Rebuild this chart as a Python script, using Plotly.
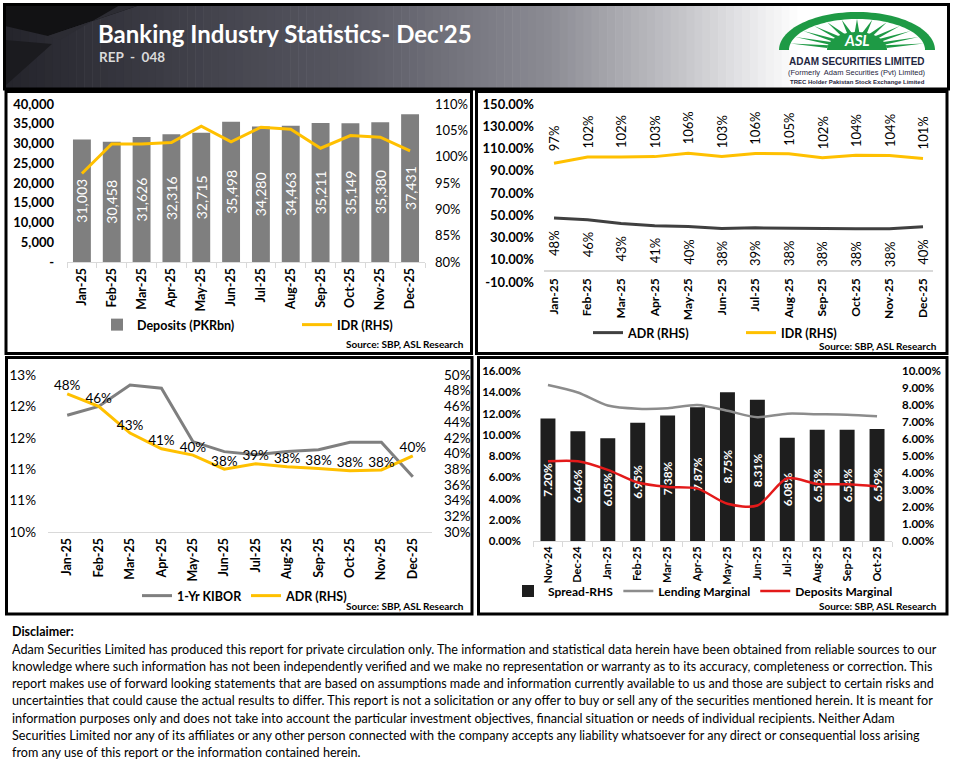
import numpy as np
import plotly.graph_objects as go

W, H = 955, 768


def X(p):
    return p / W


def Y(p):
    return 1 - p / H


# ---------------- data ----------------
months_25 = ["Jan-25", "Feb-25", "Mar-25", "Apr-25", "May-25", "Jun-25",
             "Jul-25", "Aug-25", "Sep-25", "Oct-25", "Nov-25", "Dec-25"]
deposits_pkrbn = [31003, 30458, 31626, 32316, 32715, 35498,
                  34280, 34463, 35211, 35149, 35380, 37431]
idr_pct = [96.8, 102.4, 102.4, 102.7, 105.8, 102.8,
           105.6, 105.2, 101.6, 104.0, 103.7, 101.1]
adr_pct = [47.6, 46.0, 42.6, 40.6, 39.8, 38.0,
           38.7, 38.3, 38.1, 37.8, 37.9, 39.7]
kibor_1yr_pct = [11.86, 12.00, 12.34, 12.29, 11.44, 11.28,
                 11.23, 11.28, 11.31, 11.43, 11.43, 10.88]

months_spread = ["Nov-24", "Dec-24", "Jan-25", "Feb-25", "Mar-25", "Apr-25",
                 "May-25", "Jun-25", "Jul-25", "Aug-25", "Sep-25", "Oct-25"]
spread_pct = [7.20, 6.46, 6.05, 6.95, 7.38, 7.87, 8.75, 8.31, 6.08, 6.55, 6.54, 6.59]
lending_marginal_pct = [14.68, 13.98, 12.75, 12.45, 12.50, 12.80,
                        12.25, 11.65, 11.98, 11.93, 11.88, 11.74]
deposits_marginal_pct = [7.51, 7.51, 6.70, 5.50, 5.09, 4.93,
                         3.50, 3.34, 5.90, 5.37, 5.34, 5.14]

# tick labels
dep_tickvals = [0, 5000, 10000, 15000, 20000, 25000, 30000, 35000, 40000]
dep_ticktext = ["-", "5,000", "10,000", "15,000", "20,000", "25,000", "30,000", "35,000", "40,000"]
idr_tickvals = [80, 85, 90, 95, 100, 105, 110]
idr_ticktext = ["80%", "85%", "90%", "95%", "100%", "105%", "110%"]
ratio_tickvals = [-10, 10, 30, 50, 70, 90, 110, 130, 150]
ratio_ticktext = ["-10.00%", "10.00%", "30.00%", "50.00%", "70.00%", "90.00%",
                  "110.00%", "130.00%", "150.00%"]
kibor_tickvals = [10.0, 10.5, 11.0, 11.5, 12.0, 12.5]
kibor_ticktext = ["10%", "11%", "11%", "12%", "12%", "13%"]
adr_rhs_tickvals = [30, 32, 34, 36, 38, 40, 42, 44, 46, 48, 50]
adr_rhs_ticktext = ["30%", "32%", "34%", "36%", "38%", "40%", "42%", "44%", "46%", "48%", "50%"]
marginal_tickvals = [0, 2, 4, 6, 8, 10, 12, 14, 16]
marginal_ticktext = ["0.00%", "2.00%", "4.00%", "6.00%", "8.00%", "10.00%",
                     "12.00%", "14.00%", "16.00%"]
spread_tickvals = [0, 1, 2, 3, 4, 5, 6, 7, 8, 9, 10]
spread_ticktext = ["0.00%", "1.00%", "2.00%", "3.00%", "4.00%", "5.00%",
                   "6.00%", "7.00%", "8.00%", "9.00%", "10.00%"]

disclaimer_lines = [
    "Adam Securities Limited has produced this report for private circulation only. The information and statistical data herein have been obtained from reliable sources to our",
    "knowledge where such information has not been independently verified and we make no representation or warranty as to its accuracy, completeness or correction. This",
    "report makes use of forward looking statements that are based on assumptions made and information currently available to us and those are subject to certain risks and",
    "uncertainties that could cause the actual results to differ. This report is not a solicitation or any offer to buy or sell any of the securities mentioned herein. It is meant for",
    "information purposes only and does not take into account the particular investment objectives, financial situation or needs of individual recipients. Neither Adam",
    "Securities Limited nor any of its affiliates or any other person connected with the company accepts any liability whatsoever for any direct or consequential loss arising",
    "from any use of this report or the information contained herein.",
]

# ---------------- styles ----------------
FONT = "Lato"
GOLD = "#FFC000"
BAR_GREY = "#7F7F7F"
DARK = "#404040"
KIBOR_GREY = "#7F7F7F"
SPREAD_BLACK = "#1E1E1E"
LEND_GREY = "#8C8C8C"
RED = "#E31A1A"
AXIS_GREY = "#D9D9D9"


def f(size, bold=False, color="#000000", family=FONT):
    d = dict(family=family, size=size, color=color)
    if bold:
        d["weight"] = "bold"
    return d


fig = go.Figure()

# ---------- chart 1: deposits & IDR ----------
fig.add_trace(go.Bar(
    x=months_25, y=deposits_pkrbn, name="Deposits (PKRbn)",
    marker=dict(color=BAR_GREY, line=dict(width=0)),
    texttemplate="%{y:,.0f}", textposition="inside", textangle=-90,
    insidetextanchor="middle", constraintext="none",
    textfont=f(14, False, "#FFFFFF"),
    xaxis="x", yaxis="y", legend="legend",
))
fig.add_trace(go.Scatter(
    x=months_25, y=idr_pct, name="IDR (RHS)", mode="lines",
    line=dict(color=GOLD, width=3), xaxis="x", yaxis="y2", legend="legend",
))

# ---------- chart 2: ADR & IDR ----------
fig.add_trace(go.Scatter(
    x=months_25, y=adr_pct, name="ADR (RHS)", mode="lines",
    line=dict(color=DARK, width=3), xaxis="x2", yaxis="y3", legend="legend2",
))
fig.add_trace(go.Scatter(
    x=months_25, y=idr_pct, name="IDR (RHS)", mode="lines",
    line=dict(color=GOLD, width=3), xaxis="x2", yaxis="y3", legend="legend2",
))

# ---------- chart 3: KIBOR & ADR ----------
fig.add_trace(go.Scatter(
    x=months_25, y=kibor_1yr_pct, name="1-Yr KIBOR", mode="lines",
    line=dict(color=KIBOR_GREY, width=3), xaxis="x3", yaxis="y4", legend="legend3",
))
fig.add_trace(go.Scatter(
    x=months_25, y=adr_pct, name="ADR (RHS)", mode="lines+text",
    line=dict(color=GOLD, width=3), texttemplate="%{y:.0f}%",
    textposition="top center", textfont=f(13.5),
    xaxis="x3", yaxis="y5", legend="legend3", cliponaxis=False,
))

# ---------- chart 4: spread ----------
fig.add_trace(go.Bar(
    x=months_spread, y=spread_pct, name="Spread-RHS", width=0.5,
    marker=dict(color=SPREAD_BLACK, line=dict(width=0)),
    texttemplate="%{y:.2f}%", textposition="inside", textangle=-90,
    insidetextanchor="middle", constraintext="none",
    textfont=f(12, True, "#FFFFFF"),
    xaxis="x4", yaxis="y6", legend="legend4",
))
fig.add_trace(go.Scatter(
    x=months_spread, y=lending_marginal_pct, name="Lending Marginal", mode="lines",
    line=dict(color=LEND_GREY, width=2.5, shape="spline", smoothing=0.8),
    xaxis="x4", yaxis="y7", legend="legend4",
))
fig.add_trace(go.Scatter(
    x=months_spread, y=deposits_marginal_pct, name="Deposits Marginal", mode="lines",
    line=dict(color=RED, width=2.5, shape="spline", smoothing=0.8),
    xaxis="x4", yaxis="y7", legend="legend4",
))

# ---------- axes ----------
cat_x = dict(type="category", showgrid=False, zeroline=False, tickangle=-90,
             showline=True, linecolor=AXIS_GREY, linewidth=1, automargin=False)
noy = dict(showgrid=False, zeroline=False, showline=False, ticks="", automargin=False)

fig.update_layout(
    xaxis=dict(cat_x, domain=[X(67), X(425)], anchor="y", ticks="outside",
               tickson="boundaries", ticklen=5, tickcolor=AXIS_GREY,
               tickfont=f(12.5, True)),
    yaxis=dict(noy, domain=[Y(262), Y(104)], anchor="x", range=[0, 40000],
               tickvals=dep_tickvals, ticktext=dep_ticktext,
               tickfont=f(13, True), ticklabelstandoff=12),
    yaxis2=dict(noy, overlaying="y", side="right", anchor="x", range=[80, 110],
                tickvals=idr_tickvals, ticktext=idr_ticktext, tickfont=f(13),
                ticklabelstandoff=9),

    xaxis2=dict(cat_x, domain=[X(544), X(933)], anchor="free", position=Y(275),
                showline=False, tickfont=f(12, True)),
    yaxis3=dict(noy, domain=[Y(282), Y(104)], anchor="x2", range=[-10, 150],
                tickvals=ratio_tickvals, ticktext=ratio_ticktext,
                tickfont=f(13, True), ticklabelstandoff=9,
                zeroline=True, zerolinecolor=AXIS_GREY, zerolinewidth=1.5),

    xaxis3=dict(cat_x, domain=[X(48), X(432)], anchor="y4", tickfont=f(12.5, True)),
    yaxis4=dict(noy, domain=[Y(532), Y(375)], anchor="x3", range=[10, 12.5],
                tickvals=kibor_tickvals, ticktext=kibor_ticktext,
                tickfont=f(13.5), ticklabelstandoff=11),
    yaxis5=dict(noy, overlaying="y4", side="right", anchor="x3", range=[30, 50],
                tickvals=adr_rhs_tickvals, ticktext=adr_rhs_ticktext, tickfont=f(13.5),
                ticklabelstandoff=11),

    xaxis4=dict(cat_x, domain=[X(533), X(892)], anchor="y6", ticks="outside",
                tickson="boundaries", ticklen=5, tickcolor=AXIS_GREY,
                tickfont=f(11, True)),
    yaxis6=dict(noy, domain=[Y(541), Y(371)], anchor="x4", side="right",
                range=[0, 10], tickvals=spread_tickvals, ticktext=spread_ticktext,
                tickfont=f(11.5, True), ticklabelstandoff=9),
    yaxis7=dict(noy, overlaying="y6", side="left", anchor="x4", range=[0, 16],
                tickvals=marginal_tickvals, ticktext=marginal_ticktext,
                tickfont=f(11.5, True), ticklabelstandoff=11),
    bargap=0.4,
)

leg = dict(orientation="h", xanchor="left", yanchor="middle",
           font=f(12.5, True), bgcolor="rgba(0,0,0,0)", itemwidth=30,
           traceorder="normal", tracegroupgap=0)
fig.update_layout(
    legend=dict(leg, x=X(97), y=Y(325), entrywidth=155),
    legend2=dict(leg, x=X(588), y=Y(333), entrywidth=108),
    legend3=dict(leg, x=X(137), y=Y(596), entrywidth=64),
    legend4=dict(leg, x=X(508), y=Y(591), font=f(12, True)),
)

# ---------- annotations ----------
ann = []
for m, v in zip(months_25, idr_pct):
    ann.append(dict(x=m, y=v, xref="x2", yref="y3", text=f"{round(v)}%",
                    textangle=-90, yshift=25, showarrow=False, font=f(13)))
for m, v in zip(months_25, adr_pct):
    ann.append(dict(x=m, y=v, xref="x2", yref="y3", text=f"{round(v)}%",
                    textangle=-90, yshift=-25, showarrow=False, font=f(13)))

src = "Source: SBP, ASL Research"
for sx, sy in ((466, 344), (939, 346), (466, 606), (939, 606)):
    ann.append(dict(x=X(sx), y=Y(sy), xref="paper", yref="paper", xanchor="right",
                    yanchor="middle", text=src, showarrow=False, font=f(10, True)))

# header text
ann.append(dict(x=X(96), y=Y(33), xref="paper", yref="paper", xanchor="left",
                yanchor="middle", text="Banking Industry Statistics- Dec'25",
                showarrow=False, font=f(24, True, "#FFFFFF")))
ann.append(dict(x=X(97), y=Y(57), xref="paper", yref="paper", xanchor="left",
                yanchor="middle", text="REP  -  048", showarrow=False,
                font=f(13.5, True, "#DADADA")))
ann.append(dict(x=X(857), y=Y(40), xref="paper", yref="paper", xanchor="center",
                yanchor="middle", text="<i>ASL</i>", showarrow=False,
                font=f(15, True, "#FFFFFF")))
ann.append(dict(x=X(857), y=Y(61), xref="paper", yref="paper", xanchor="center",
                yanchor="middle", text="ADAM SECURITIES LIMITED", showarrow=False,
                font=f(10, True, "#1F2640", "Liberation Sans")))
ann.append(dict(x=X(857), y=Y(72.5), xref="paper", yref="paper", xanchor="center",
                yanchor="middle", text="(Formerly  Adam Securities (Pvt) Limited)",
                showarrow=False, font=f(7.5, False, "#1F2640", "Liberation Sans")))
ann.append(dict(x=X(857), y=Y(82), xref="paper", yref="paper", xanchor="center",
                yanchor="middle", text="TREC Holder Pakistan Stock Exchange Limited",
                showarrow=False, font=f(6, True, "#1F2640", "Liberation Sans")))

# disclaimer
ann.append(dict(x=X(10), y=Y(631), xref="paper", yref="paper", xanchor="left",
                yanchor="middle", text="Disclaimer:", showarrow=False,
                font=f(12.5, True, "#000000")))
for i, line in enumerate(disclaimer_lines):
    ann.append(dict(x=X(10), y=Y(649 + i * 17.3), xref="paper", yref="paper",
                    xanchor="left", yanchor="middle", text=line, showarrow=False,
                    font=f(12.6, False, "#000000")))

fig.update_layout(annotations=ann)

# ---------- shapes (decoration) ----------
shapes = []


def path_of(points):
    return "M " + " L ".join(f"{X(a):.5f},{Y(b):.5f}" for a, b in points) + " Z"


def poly(points, color, layer="above"):
    return dict(type="path", xref="paper", yref="paper", path=path_of(points),
                fillcolor=color, line=dict(width=0), layer=layer)


# header gradient
stops = [(5, (36, 36, 43)), (150, (58, 58, 67)), (350, (88, 88, 98)),
         (550, (140, 140, 148)), (680, (196, 196, 200)), (760, (236, 236, 238)),
         (800, (255, 255, 255)), (948, (255, 255, 255))]
edges = np.linspace(5, 948, 120)
for a, b in zip(edges[:-1], edges[1:]):
    c = (a + b) / 2
    for (p0, c0), (p1, c1) in zip(stops[:-1], stops[1:]):
        if p0 <= c <= p1:
            t = (c - p0) / (p1 - p0)
            col = tuple(int(round(c0[k] + t * (c1[k] - c0[k]))) for k in range(3))
            break
    shapes.append(dict(type="rect", xref="paper", yref="paper", x0=X(a), x1=X(b + 0.6),
                       y0=Y(88), y1=Y(5), fillcolor="rgb(%d,%d,%d)" % col,
                       line=dict(width=0), layer="below"))
# dark angular shapes at the left of the header
shapes.append(poly([(5, 5), (140, 5), (48, 36), (5, 26)], "#121214"))
shapes.append(poly([(5, 40), (52, 44), (5, 86)], "#1b1b1f"))
shapes.append(poly([(48, 36), (140, 5), (120, 5), (60, 40)], "#2c2c33"))

# logo
cx, cy = 857, 50
th = np.linspace(0, np.pi, 60)
outer = [(cx + 78 * np.cos(t), cy - 38 * np.sin(t)) for t in th]
inner = [(cx + 68 * np.cos(t), cy - 31 * np.sin(t)) for t in th]
shapes.append(poly(outer, "#1E9A45"))
shapes.append(poly(inner, "#FFFFFF"))
for ang in np.linspace(np.radians(12), np.radians(168), 13):
    w = np.radians(5)
    pts = [(cx + 30 * np.cos(ang - w), cy - 16 * np.sin(ang - w)),
           (cx + 68 * np.cos(ang), cy - 31 * np.sin(ang)),
           (cx + 30 * np.cos(ang + w), cy - 16 * np.sin(ang + w))]
    shapes.append(poly(pts, "#1E9A45"))
core = [(cx + 30 * np.cos(t), cy - 18 * np.sin(t)) for t in th]
shapes.append(poly(core, "#1E9A45"))


# frames
def frame(x0, y0, x1, y1, w=3):
    return dict(type="rect", xref="paper", yref="paper", x0=X(x0), x1=X(x1),
                y0=Y(y1), y1=Y(y0), line=dict(color="#000000", width=w),
                fillcolor="rgba(0,0,0,0)", layer="above")


shapes.append(frame(4.5, 4.5, 948.5, 89, 3))
shapes.append(frame(6, 91.5, 471.5, 353.5))
shapes.append(frame(476.5, 91.5, 947, 353.5))
shapes.append(frame(6.5, 357.5, 472, 614))
shapes.append(frame(478.5, 357.5, 947, 614))

fig.update_layout(shapes=shapes)

fig.update_layout(
    width=W, height=H, margin=dict(l=0, r=0, t=0, b=0, autoexpand=False),
    paper_bgcolor="#FFFFFF", plot_bgcolor="rgba(0,0,0,0)",
    font=dict(family=FONT, color="#000000"),
)

fig.write_html("out.html",
               config={"displayModeBar": False},
               post_script="document.body.style.margin='0px';"
                           "document.body.style.overflow='hidden';")
